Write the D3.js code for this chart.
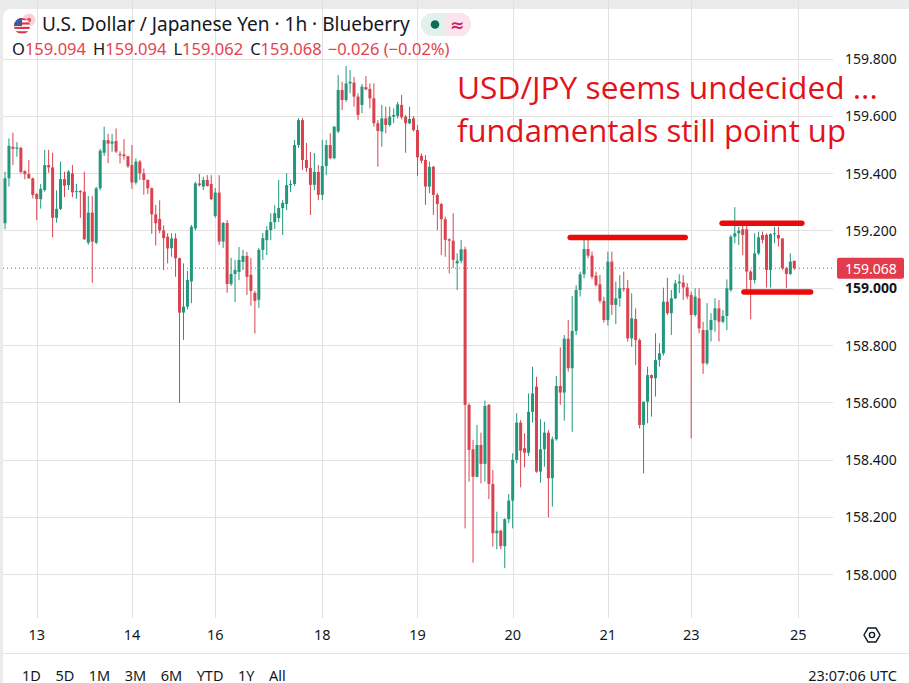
<!DOCTYPE html>
<html><head><meta charset="utf-8">
<script src="https://cdn.jsdelivr.net/npm/d3@7"></script>
<style>html,body{margin:0;padding:0;background:#ebebeb;overflow:hidden}</style>
</head><body>
<svg id="c" width="909" height="683"></svg>
<script>
// ---- data (USD/JPY, 1h candles, 12 Jun 16:00 -> 24 Jun 23:00 UTC) ----
const open=[159.225,159.382,159.492,159.485,159.488,159.407,159.397,159.382,159.327,159.309,
159.341,159.428,159.420,159.244,159.275,159.379,159.358,159.399,159.335,159.338,
159.335,159.157,159.262,159.157,159.347,159.471,159.515,159.503,159.512,159.466,
159.465,159.459,159.428,159.367,159.440,159.399,159.376,159.347,159.256,159.240,
159.200,159.178,159.138,159.172,159.103,158.913,158.934,159.022,159.207,159.364,
159.353,159.376,159.362,159.250,159.332,159.161,159.226,159.013,159.048,159.055,
159.090,159.111,159.045,158.982,158.958,159.132,159.166,159.201,159.229,159.243,
159.278,159.292,159.358,159.362,159.498,159.585,159.446,159.418,159.359,159.404,
159.324,159.425,159.498,159.452,159.545,159.690,159.655,159.713,159.716,159.667,
159.638,159.700,159.694,159.661,159.574,159.545,159.591,159.568,159.597,159.600,
159.638,159.597,159.574,159.591,159.550,159.460,159.446,159.353,159.422,159.324,
159.292,159.239,159.169,159.164,159.085,159.094,159.134,158.591,158.436,158.340,
158.451,158.385,158.591,158.315,158.143,158.152,158.098,158.192,158.257,158.399,
158.529,158.440,158.424,158.567,158.655,158.358,158.436,158.494,158.335,158.471,
158.657,158.634,158.822,158.719,158.849,158.992,159.047,159.135,159.112,159.042,
159.012,158.954,158.887,159.091,158.940,158.963,158.998,158.998,158.823,158.891,
158.817,158.521,158.602,158.695,158.684,158.748,158.771,158.951,158.911,158.963,
159.015,159.018,159.001,158.975,158.905,158.963,158.852,158.736,158.852,158.887,
158.928,158.881,158.901,158.992,159.178,159.190,159.204,159.204,159.056,159.027,
159.120,159.184,159.184,159.062,159.187,159.184,159.172,159.068,159.048,159.094];
const high=[159.405,159.521,159.541,159.508,159.492,159.410,159.446,159.384,159.330,159.362,
159.481,159.481,159.471,159.340,159.440,159.405,159.411,159.428,159.362,159.340,
159.405,159.320,159.320,159.352,159.485,159.562,159.537,159.537,159.556,159.476,
159.518,159.460,159.498,159.451,159.446,159.416,159.378,159.350,159.289,159.305,
159.218,159.190,159.190,159.190,159.105,159.085,159.059,159.219,159.370,159.397,
159.387,159.393,159.393,159.348,159.393,159.229,159.236,159.104,159.097,159.142,
159.132,159.125,159.104,158.989,159.139,159.191,159.215,159.260,159.288,159.376,
159.306,159.400,159.376,159.516,159.592,159.592,159.505,159.474,159.470,159.428,
159.516,159.516,159.539,159.564,159.742,159.719,159.774,159.760,159.736,159.679,
159.711,159.739,159.713,159.713,159.585,159.638,159.632,159.632,159.626,159.649,
159.673,159.603,159.632,159.599,159.568,159.469,159.463,159.440,159.425,159.330,
159.296,159.248,159.172,159.260,159.120,159.166,159.143,158.597,158.468,158.521,
158.494,158.606,158.594,158.364,158.218,158.154,158.195,158.280,158.422,158.562,
158.538,158.492,158.631,158.724,158.689,158.541,158.532,158.503,158.480,158.692,
158.792,158.835,158.887,158.971,159.009,159.056,159.167,159.170,159.126,159.056,
159.044,158.968,159.126,159.126,159.021,159.044,159.056,159.027,158.980,158.928,
158.823,158.602,158.724,158.697,158.841,158.806,159.000,159.035,158.992,159.027,
159.047,159.044,159.016,158.986,158.998,158.998,158.881,158.946,158.911,158.963,
158.957,158.922,159.029,159.184,159.281,159.213,159.219,159.219,159.062,159.190,
159.196,159.196,159.190,159.190,159.213,159.213,159.172,159.073,159.120,159.094];
const low=[159.204,159.353,159.428,159.457,159.398,159.378,159.380,159.312,159.236,159.276,
159.335,159.401,159.176,159.227,159.271,159.316,159.341,159.316,159.310,159.244,
159.167,159.150,159.017,159.152,159.340,159.460,159.434,159.475,159.470,159.434,
159.447,159.418,159.345,159.360,159.376,159.324,159.327,159.188,159.147,159.190,
159.062,159.085,159.108,159.038,158.598,158.818,158.925,158.946,159.200,159.353,
159.341,159.353,159.306,159.244,159.149,159.139,158.982,159.006,158.950,159.027,
159.062,158.975,158.937,158.840,158.930,159.097,159.114,159.166,159.205,159.229,
159.184,159.271,159.334,159.355,159.488,159.411,159.404,159.254,159.341,159.306,
159.306,159.393,159.448,159.448,159.540,159.620,159.649,159.679,159.632,159.585,
159.609,159.690,159.626,159.562,159.422,159.492,159.539,159.562,159.574,159.591,
159.588,159.471,159.571,159.545,159.390,159.434,159.289,159.330,159.254,159.201,
159.114,159.108,159.050,159.068,158.992,159.085,158.160,158.323,158.040,158.338,
158.317,158.323,158.262,158.096,158.087,158.087,158.021,158.178,158.160,158.387,
158.303,158.373,158.413,158.529,158.354,158.319,158.375,158.199,158.236,158.466,
158.591,158.536,158.707,158.497,158.835,158.969,159.033,159.103,159.030,159.004,
158.946,158.879,158.868,158.905,158.873,158.934,158.986,158.812,158.794,158.730,
158.509,158.352,158.527,158.550,158.620,158.724,158.763,158.905,158.835,158.960,
158.981,158.957,158.960,158.474,158.899,158.841,158.699,158.730,158.812,158.846,
158.812,158.876,158.852,158.986,159.155,159.149,159.114,158.986,158.890,159.015,
159.114,159.155,159.001,159.001,159.155,159.143,159.062,158.998,159.044,159.062];
const close=[159.382,159.495,159.485,159.489,159.404,159.396,159.382,159.324,159.310,159.345,
159.428,159.420,159.244,159.275,159.379,159.356,159.405,159.333,159.337,159.333,
159.169,159.262,159.161,159.347,159.478,159.515,159.503,159.510,159.475,159.462,
159.459,159.424,159.367,159.440,159.399,159.376,159.347,159.256,159.225,159.200,
159.173,159.137,159.172,159.103,158.913,158.934,159.027,159.213,159.364,159.358,
159.376,159.355,159.309,159.332,159.161,159.226,159.013,159.048,159.062,159.097,
159.111,159.038,158.989,158.954,159.132,159.173,159.201,159.229,159.260,159.278,
159.296,159.358,159.362,159.498,159.585,159.446,159.418,159.359,159.404,159.324,
159.425,159.498,159.452,159.562,159.690,159.655,159.713,159.719,159.667,159.603,
159.702,159.692,159.661,159.574,159.547,159.591,159.568,159.597,159.603,159.640,
159.595,159.574,159.589,159.550,159.455,159.443,159.353,159.422,159.324,159.292,
159.239,159.167,159.164,159.097,159.094,159.134,158.591,158.434,158.340,158.451,
158.385,158.587,158.315,158.143,158.152,158.098,158.192,158.257,158.399,158.529,
158.431,158.424,158.567,158.631,158.358,158.436,158.494,158.335,158.471,158.657,
158.634,158.822,158.719,158.849,158.992,159.047,159.135,159.112,159.038,159.009,
158.954,158.887,159.091,158.940,158.963,158.998,158.997,158.823,158.893,158.817,
158.521,158.602,158.695,158.684,158.748,158.771,158.951,158.911,158.963,159.015,
159.021,159.001,158.969,158.905,158.969,158.858,158.736,158.852,158.887,158.928,
158.881,158.901,158.998,159.178,159.190,159.199,159.184,159.056,159.027,159.120,
159.176,159.167,159.062,159.187,159.190,159.172,159.068,159.048,159.091,159.068];

const dayTickIndex=[8,32,53,80,104,128,152,173,200];
const dayTickLabels=["13","14","16","18","19","20","21","23","25"];
const priceTicks=[158.0,158.2,158.4,158.6,158.8,159.0,159.2,159.4,159.6,159.8];
const lastPrice=159.068;
const levelStart=[142.5,180.8,186.3];
const levelEnd=[171.5,200.9,203.1];
const levelPrice=[159.175,159.225,158.985];
const titleText="U.S. Dollar / Japanese Yen \u00b7 1h \u00b7 Blueberry";
const ohlcKeys=["O","H","L","C"];
const ohlcVals=["159.094","159.094","159.062","159.068"];
const changeText="\u22120.026 (\u22120.02%)";
const noteLines=["USD/JPY seems undecided ...","fundamentals still point up"];
const rangeButtons=["1D","5D","1M","3M","6M","YTD","1Y","All"];
const clockText="23:07:06 UTC";

// ---- drawing ----
const UP="#22977c", DOWN="#d9434f", GRID="#e1e1e1", TXT="#131722", RED="#e3434f";
const svg=d3.select("#c");
const W=909,H=683, plotR=833, plotB=618, plotT=9;
const x=d3.scaleLinear().domain([0,199]).range([5,794.3]);
const y=d3.scaleLinear().domain([158,159.8]).range([574.2,58.5]);

svg.append("rect").attr("width",W).attr("height",H).attr("fill","#ebebeb");
svg.append("rect").attr("x",3).attr("y",plotT).attr("width",W+10).attr("height",H+10).attr("rx",8).attr("fill","#ffffff");

const defs=svg.append("defs");
defs.append("clipPath").attr("id","plot").append("rect").attr("x",3).attr("y",plotT).attr("width",plotR-3).attr("height",plotB-plotT);

// grid
const g=svg.append("g");
g.selectAll("line.h").data(priceTicks).join("line")
 .attr("x1",3).attr("x2",plotR).attr("y1",d=>Math.round(y(d))+0.5).attr("y2",d=>Math.round(y(d))+0.5)
 .attr("stroke",GRID).attr("stroke-width",1);
g.selectAll("line.v").data(dayTickIndex).join("line")
 .attr("x1",d=>Math.round(x(d))+0.5).attr("x2",d=>Math.round(x(d))+0.5).attr("y1",0).attr("y2",plotB)
 .attr("stroke",GRID).attr("stroke-width",1);

// candles
const idx=d3.range(open.length);
const cg=svg.append("g").attr("clip-path","url(#plot)");
cg.selectAll("line.w").data(idx).join("line")
 .attr("x1",i=>x(i)).attr("x2",i=>x(i))
 .attr("y1",i=>y(high[i])).attr("y2",i=>y(low[i]))
 .attr("stroke",i=>close[i]>=open[i]?UP:DOWN).attr("stroke-width",1);
cg.selectAll("rect.b").data(idx).join("rect")
 .attr("x",i=>x(i)-1.5).attr("width",3)
 .attr("y",i=>y(Math.max(open[i],close[i])))
 .attr("height",i=>Math.max(1,Math.abs(y(open[i])-y(close[i]))))
 .attr("fill",i=>close[i]>=open[i]?UP:DOWN);

// last price dotted line
svg.append("line").attr("x1",3).attr("x2",plotR).attr("y1",y(lastPrice)).attr("y2",y(lastPrice))
 .attr("stroke",RED).attr("stroke-width",1).attr("stroke-dasharray","1,3");

// drawn levels
svg.selectAll("line.lvl").data(levelPrice).join("line")
 .attr("x1",(d,i)=>x(levelStart[i])).attr("x2",(d,i)=>x(levelEnd[i]))
 .attr("y1",d=>y(d)).attr("y2",d=>y(d))
 .attr("stroke","#ea0a0a").attr("stroke-width",5.5).attr("stroke-linecap","round");

// annotation
function fit(sel,w){const L=sel.node().getComputedTextLength();const fs=parseFloat(sel.attr("font-size"));sel.attr("font-size",fs*w/L);return sel;}
const n1=svg.append("text").attr("x",457).attr("y",99).attr("font-family","Open Sans").attr("font-size",28).attr("fill","#e3131b").text(noteLines[0]);
fit(n1,421);
const n2=svg.append("text").attr("x",457).attr("y",142).attr("font-family","Open Sans").attr("font-size",28).attr("fill","#e3131b").text(noteLines[1]);
fit(n2,389);

// header
const hd=svg.append("g");
hd.append("circle").attr("cx",29).attr("cy",20).attr("r",6.5).attr("fill","#f6d3d9");
hd.append("circle").attr("cx",29).attr("cy",20).attr("r",2.2).attr("fill","#e0505e");
defs.append("clipPath").attr("id","flag").append("circle").attr("cx",22).attr("cy",26).attr("r",8);
const fl=hd.append("g").attr("clip-path","url(#flag)");
fl.append("rect").attr("x",14).attr("y",18).attr("width",16).attr("height",16).attr("fill","#fff");
d3.range(4).forEach(k=>fl.append("rect").attr("x",14).attr("y",18+k*4.4).attr("width",16).attr("height",2.2).attr("fill","#d8384a"));
fl.append("rect").attr("x",14).attr("y",18).attr("width",8).attr("height",8).attr("fill","#3c5a9a");
const tt=hd.append("text").attr("x",42).attr("y",31).attr("font-family","Noto Sans").attr("font-size",17).attr("fill",TXT).text(titleText);
fit(tt,368);
// status pill
hd.append("rect").attr("x",421).attr("y",13).attr("width",50).attr("height",23).attr("rx",11.5).attr("fill","#e3f1ec");
hd.append("path").attr("d","M446,13 H459.5 A11.5,11.5 0 0 1 459.5,36 H446 Z").attr("fill","#fbe4eb");
hd.append("circle").attr("cx",435).attr("cy",24.5).attr("r",4.3).attr("fill","#126b55");
hd.append("text").attr("x",457).attr("y",30.5).attr("text-anchor","middle").attr("font-family","DejaVu Sans").attr("font-size",17).attr("font-weight","bold").attr("fill","#c8246a").text("\u2248");
// OHLC row
const ot=hd.append("text").attr("x",12).attr("y",55).attr("font-family","Noto Sans").attr("font-size",13.5);
ohlcKeys.forEach((k,i)=>{
  ot.append("tspan").attr("fill",TXT).attr("dx",i?7:0).text(k);
  ot.append("tspan").attr("fill",RED).text(ohlcVals[i]);
});
ot.append("tspan").attr("fill",RED).attr("dx",6).text(changeText);
fit(ot,411);

// y axis
const ya=svg.append("g");
ya.selectAll("text").data(priceTicks).join("text")
 .attr("x",845).attr("y",d=>y(d)+5.5).attr("font-family","Noto Sans").attr("font-size",14)
 .attr("font-weight",d=>d===159.0?"bold":"normal")
 .attr("fill",TXT).text(d=>d3.format(".3f")(d));
ya.append("rect").attr("x",837).attr("y",y(lastPrice)-10.5).attr("width",67).attr("height",21).attr("rx",2).attr("fill","#e23b4b");
ya.append("text").attr("x",845).attr("y",y(lastPrice)+5.5).attr("font-family","Noto Sans").attr("font-size",14).attr("fill","#fff").text(d3.format(".3f")(lastPrice));

// x axis
const xa=svg.append("g");
xa.selectAll("text").data(dayTickIndex).join("text")
 .attr("x",d=>x(d)).attr("y",640).attr("text-anchor","middle").attr("font-family","Noto Sans").attr("font-size",14.5)
 .attr("fill",TXT).text((d,i)=>dayTickLabels[i]);
// settings hexagon
const hx=872,hy=635,hr=8;
xa.append("path").attr("d",d3.line()(d3.range(6).map(k=>[hx+hr*Math.cos(k*Math.PI/3),hy+hr*Math.sin(k*Math.PI/3)]))+"Z")
 .attr("fill","none").attr("stroke",TXT).attr("stroke-width",1.4);
xa.append("circle").attr("cx",hx).attr("cy",hy).attr("r",2.6).attr("fill","none").attr("stroke",TXT).attr("stroke-width",1.4);

// bottom bar
svg.append("line").attr("x1",3).attr("x2",W).attr("y1",653.5).attr("y2",653.5).attr("stroke","#e3e3e3");
let bx=22;
rangeButtons.forEach(b=>{
  const t=svg.append("text").attr("x",bx).attr("y",680.5).attr("font-family","Noto Sans").attr("font-size",14.5).attr("fill",TXT).text(b);
  bx+=t.node().getComputedTextLength()+14.5;
});
svg.append("text").attr("x",897).attr("y",680.5).attr("text-anchor","end").attr("font-family","Noto Sans").attr("font-size",14.5).attr("fill",TXT).text(clockText);
</script>
</body></html>
